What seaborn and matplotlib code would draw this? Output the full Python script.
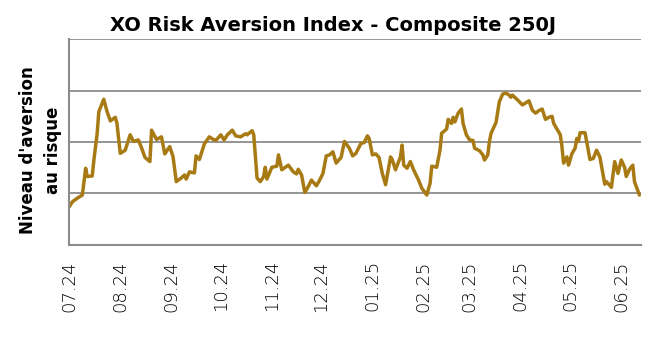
import pandas as pd
import numpy as np
import matplotlib.pyplot as plt
import matplotlib.dates as mdates
import seaborn as sns

# values (index level, arbitrary units)
dates = [
    "2024-07-01", "2024-07-03", "2024-07-06", "2024-07-09", "2024-07-11", "2024-07-12",
    "2024-07-15", "2024-07-16", "2024-07-18", "2024-07-19", "2024-07-22", "2024-07-24",
    "2024-07-26", "2024-07-29", "2024-07-30", "2024-08-01", "2024-08-04", "2024-08-07",
    "2024-08-09", "2024-08-12", "2024-08-14", "2024-08-16", "2024-08-19", "2024-08-20",
    "2024-08-23", "2024-08-26", "2024-08-28", "2024-08-31", "2024-09-02", "2024-09-04",
    "2024-09-07", "2024-09-09", "2024-09-10", "2024-09-12", "2024-09-15", "2024-09-16",
    "2024-09-18", "2024-09-21", "2024-09-24", "2024-09-27", "2024-09-28", "2024-10-01",
    "2024-10-03", "2024-10-05", "2024-10-08", "2024-10-10", "2024-10-13", "2024-10-16",
    "2024-10-17", "2024-10-20", "2024-10-21", "2024-10-23", "2024-10-25", "2024-10-27",
    "2024-10-28", "2024-10-29", "2024-11-01", "2024-11-04", "2024-11-05", "2024-11-07",
    "2024-11-11", "2024-11-14", "2024-11-16", "2024-11-17", "2024-11-19", "2024-11-21",
    "2024-11-23", "2024-11-25", "2024-11-28", "2024-11-30", "2024-12-02", "2024-12-04",
    "2024-12-06", "2024-12-08", "2024-12-10", "2024-12-13", "2024-12-15", "2024-12-18",
    "2024-12-20", "2024-12-22", "2024-12-25", "2024-12-27", "2024-12-29", "2024-12-30",
    "2025-01-01", "2025-01-03", "2025-01-05", "2025-01-07", "2025-01-09", "2025-01-12",
    "2025-01-13", "2025-01-15", "2025-01-18", "2025-01-19", "2025-01-20", "2025-01-22",
    "2025-01-24", "2025-01-26", "2025-01-29", "2025-01-31", "2025-02-03", "2025-02-05",
    "2025-02-06", "2025-02-09", "2025-02-11", "2025-02-12", "2025-02-15", "2025-02-16",
    "2025-02-18", "2025-02-19", "2025-02-20", "2025-02-22", "2025-02-24", "2025-02-25",
    "2025-02-27", "2025-03-01", "2025-03-03", "2025-03-04", "2025-03-07", "2025-03-09",
    "2025-03-10", "2025-03-12", "2025-03-13", "2025-03-14", "2025-03-17", "2025-03-19",
    "2025-03-21", "2025-03-23", "2025-03-25", "2025-03-26", "2025-03-27", "2025-03-30",
    "2025-04-02", "2025-04-04", "2025-04-06", "2025-04-08", "2025-04-10", "2025-04-12",
    "2025-04-14", "2025-04-16", "2025-04-18", "2025-04-20", "2025-04-21", "2025-04-23",
    "2025-04-25", "2025-04-26", "2025-04-27", "2025-04-29", "2025-04-30", "2025-05-02",
    "2025-05-04", "2025-05-05", "2025-05-06", "2025-05-07", "2025-05-10", "2025-05-13",
    "2025-05-15", "2025-05-17", "2025-05-19", "2025-05-22", "2025-05-23", "2025-05-26",
    "2025-05-28", "2025-05-30", "2025-06-01", "2025-06-03", "2025-06-04", "2025-06-06",
    "2025-06-08", "2025-06-09", "2025-06-12",
]
values = [
    0.74, 0.84, 0.91, 0.97, 1.49, 1.33,
    1.34, 1.65, 2.17, 2.59, 2.83, 2.59,
    2.41, 2.48, 2.36, 1.78, 1.84, 2.14,
    2.01, 2.04, 1.88, 1.70, 1.62, 2.23,
    2.05, 2.10, 1.77, 1.91, 1.72, 1.23,
    1.30, 1.36, 1.28, 1.42, 1.40, 1.73,
    1.66, 1.96, 2.10, 2.04, 2.03, 2.14,
    2.04, 2.14, 2.23, 2.12, 2.10, 2.16,
    2.14, 2.22, 2.14, 1.30, 1.23, 1.33,
    1.51, 1.28, 1.51, 1.53, 1.75, 1.46,
    1.55, 1.42, 1.38, 1.47, 1.36, 1.02,
    1.13, 1.26, 1.15, 1.26, 1.39, 1.73,
    1.75, 1.81, 1.59, 1.70, 2.01, 1.88,
    1.73, 1.78, 1.97, 1.99, 2.12, 2.07,
    1.75, 1.77, 1.70, 1.39, 1.17, 1.71,
    1.66, 1.46, 1.71, 1.94, 1.55, 1.49,
    1.62, 1.46, 1.26, 1.10, 0.97, 1.20,
    1.53, 1.51, 1.84, 2.17, 2.25, 2.44,
    2.36, 2.48, 2.39, 2.56, 2.64, 2.36,
    2.14, 2.04, 2.03, 1.88, 1.83, 1.75,
    1.65, 1.75, 2.01, 2.17, 2.38, 2.78,
    2.93, 2.95, 2.91, 2.87, 2.91, 2.82,
    2.72, 2.76, 2.80, 2.62, 2.56, 2.61,
    2.64, 2.44, 2.48, 2.50, 2.36, 2.25,
    2.14, 1.91, 1.59, 1.71, 1.55, 1.77,
    1.88, 2.07, 2.01, 2.18, 2.18, 1.66,
    1.68, 1.84, 1.71, 1.18, 1.23, 1.12,
    1.62, 1.39, 1.65, 1.51, 1.33, 1.47,
    1.55, 1.23, 0.97,
]

df = pd.DataFrame({"date": pd.to_datetime(dates), "value": values})

line_color = "#A87A14"
grid_color = "#8C8C8C"

sns.set_style("white")
plt.rcParams["font.family"] = ["DejaVu Sans"]

fig = plt.figure(figsize=(6.65, 3.55), dpi=100)
ax = fig.add_axes([0.104, 0.31, 0.86, 0.58])

sns.lineplot(data=df, x="date", y="value", color=line_color, linewidth=2.5, ax=ax)

ax.set_ylim(0, 4)
ax.set_yticks([1, 2, 3, 4])
ax.set_yticklabels([])
ax.tick_params(axis="y", length=0)
ax.yaxis.grid(True, color=grid_color, linewidth=1.3)
ax.set_axisbelow(True)

ax.set_xlim(pd.Timestamp("2024-07-01"), pd.Timestamp("2025-06-13"))
ax.xaxis.set_major_locator(mdates.MonthLocator())
ax.xaxis.set_major_formatter(mdates.DateFormatter("%m.%y"))
ax.tick_params(axis="x", length=7, width=1.2, color=grid_color, pad=4, rotation=90, labelsize=13)
for lbl in ax.get_xticklabels():
    lbl.set_fontweight("light")
    lbl.set_color("black")

for side in ["top", "right"]:
    ax.spines[side].set_visible(False)
for side in ["left", "bottom"]:
    ax.spines[side].set_color(grid_color)
    ax.spines[side].set_linewidth(1.5)

ax.set_xlabel("")
ax.set_ylabel("Niveau d'aversion\nau risque", fontsize=12, fontweight="bold", color="black", linespacing=1.45)
ax.yaxis.set_label_coords(-0.013, 0.46)

fig.suptitle("XO Risk Aversion Index - Composite 250J", fontsize=14, fontweight="bold", color="black", y=0.955)

fig.savefig("out.png", dpi=100)
